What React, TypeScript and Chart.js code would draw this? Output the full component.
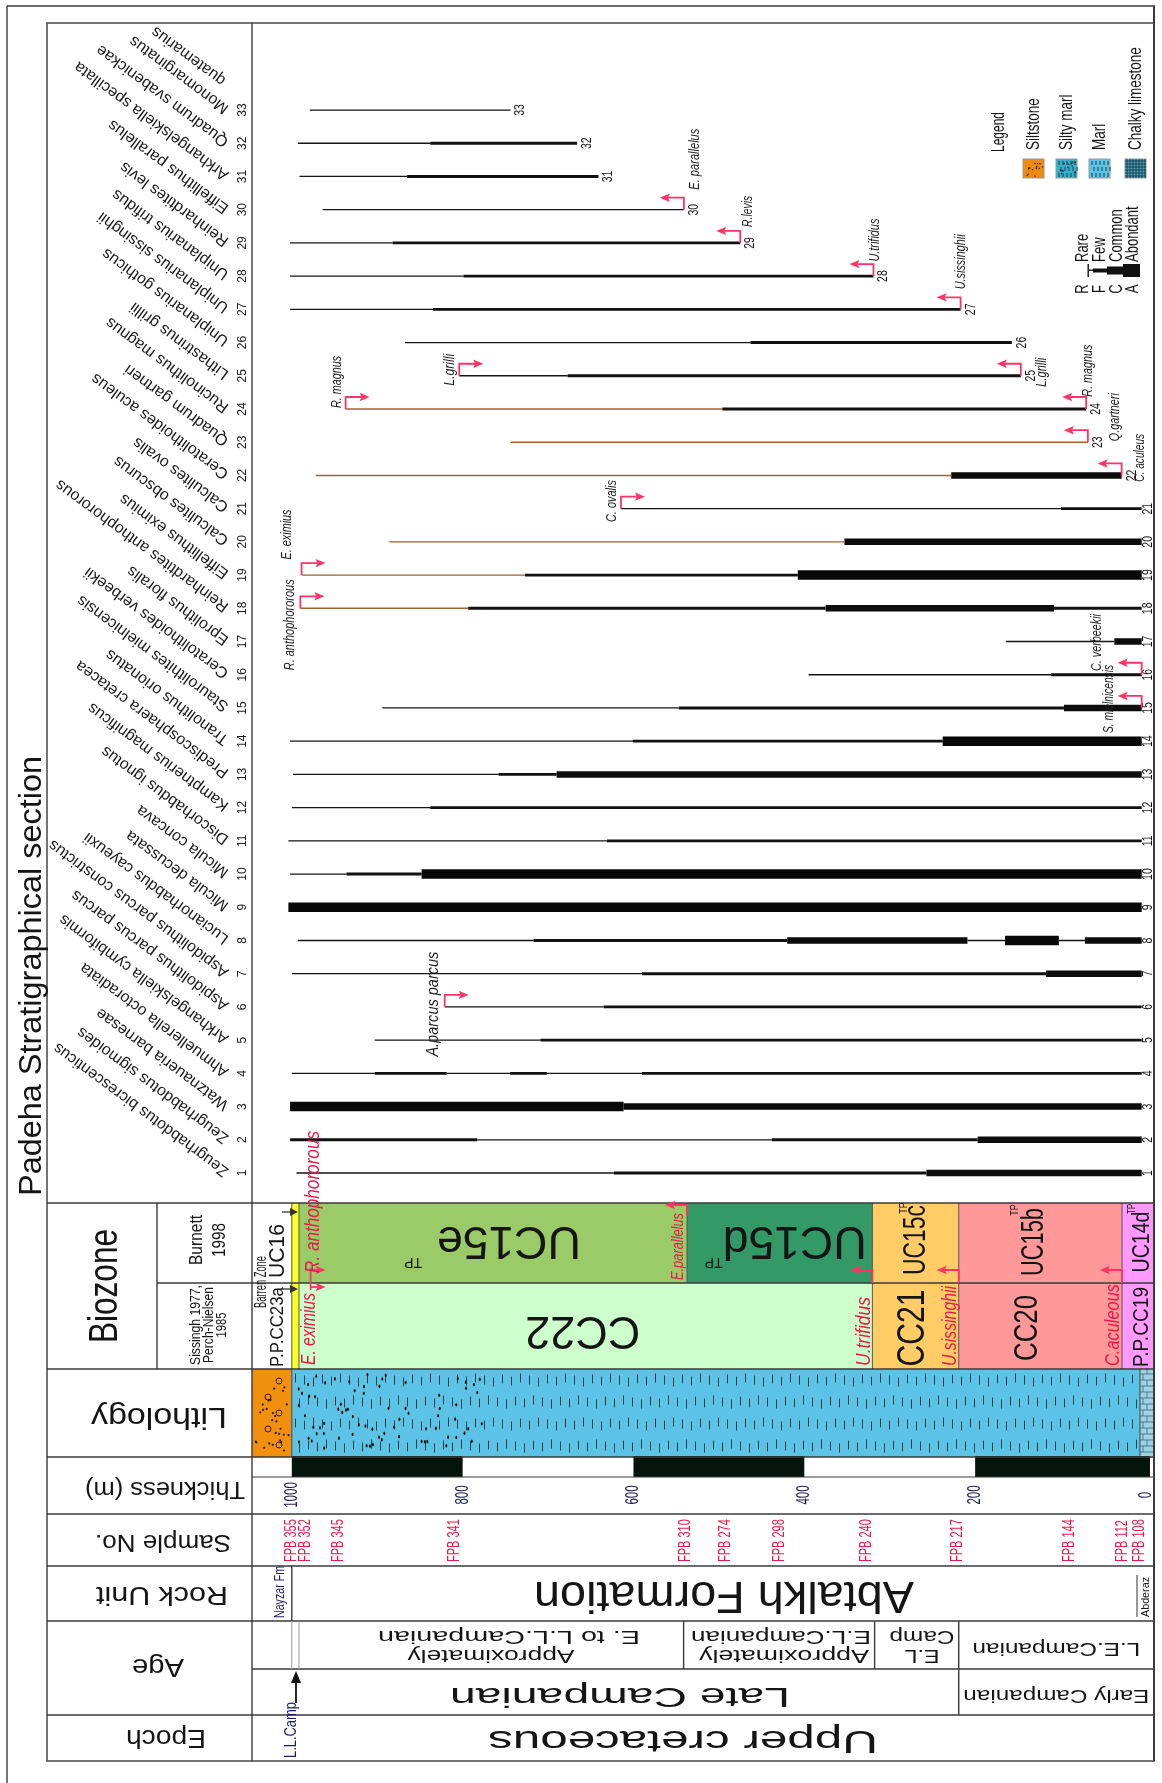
import React, { useEffect, useRef } from "react";
import { Chart, registerables } from "chart.js";
Chart.register(...registerables);

const FONT = 'Arial, "Liberation Sans", Helvetica, sans-serif';

// ---------------- data ----------------
const speciesNames = [
  "Zeugrhabdotus bicrescenticus", "Zeugrhabdotus sigmoides", "Watznaueria barnesae",
  "Ahmuellerella octoradiata", "Arkhangelskiella cymbiformis", "Aspidolithus parcus parcus",
  "Aspidolithus parcus constrictus", "Lucianorhabdus cayeuxii", "Micula decussata",
  "Micula concava", "Discorhabdus ignotus", "Kamptnerius magnificus",
  "Prediscosphaera cretacea", "Tranolithus orionatus", "Staurolithites mielnicensis",
  "Ceratolithoides verbeekii", "Eprolithus floralis", "Reinhardtites anthophororous",
  "Eiffellithus eximius", "Calculites obscurus", "Calculites ovalis",
  "Ceratolithoides aculeus", "Quadrum gartneri", "Rucinolithus magnus",
  "Lithastrinus grillii", "Uniplanarius gothicus", "Uniplanarius sissinghii",
  "Uniplanarius trifidus", "Reinhardtites levis", "Eiffellithus parallelus",
  "Arkhangelskiella specillata", "Quadrum svabenickae", "Monomarginatus",
];
const speciesExtraLine = "quatemarius";

// [species no., base thickness (m), top thickness (m)]
const rareRanges: [number, number, number][] = [
  [1, 623, 994.5], [2, 438, 783], [4, 903, 1000], [4, 744.4, 818.6], [4, 590, 701.4],
  [5, 709, 903], [6, 635, 821], [7, 590, 1000], [8, 717, 993], [8, 165, 209], [8, 71.5, 102],
  [10, 936, 1002], [11, 631, 1004], [12, 838, 1000], [13, 758, 998.5], [14, 600.6, 1002],
  [15, 547, 894], [16, 111, 395], [17, 37, 164], [21, 99.6, 614.6], [25, 677, 804],
  [26, 463, 867.5], [27, 835, 1002], [28, 799, 1002], [29, 882, 1002], [30, 541, 964],
  [31, 865, 991], [32, 838, 993], [33, 744, 979],
];
const rareBrownRanges: [number, number, number][] = [
  [18, 793.5, 990], [19, 727, 988.6], [20, 353, 886], [22, 228, 972], [23, 68, 744], [24, 496, 937],
];
const fewRanges: [number, number, number][] = [
  [1, 257, 623], [2, 783, 1002], [2, 197, 438], [4, 818.6, 903], [4, 701.4, 744.4], [4, 5, 590],
  [5, 5, 709], [6, 5, 635], [7, 117, 590], [8, 420, 717], [10, 848, 936], [11, 5, 631],
  [12, 5, 838], [13, 690, 758], [14, 238, 600.6], [15, 96, 547], [16, 5, 111],
  [18, 375, 793.5], [18, 5, 107.6], [19, 407.6, 727], [21, 5, 99.6], [24, 70, 496],
  [25, 146.5, 677], [26, 157, 463], [27, 217, 835], [28, 319, 799], [29, 475, 882],
  [31, 641, 865], [32, 666, 838],
];
const commonRanges: [number, number, number][] = [
  [1, 5, 257], [2, 5, 197], [3, 5, 611.6], [7, 5, 117], [8, 209, 420], [8, 5, 71.5],
  [13, 5, 690], [15, 5, 96], [17, 5, 37], [18, 107.6, 375], [20, 5, 353], [22, 28.5, 228],
];
const abundantRanges: [number, number, number][] = [
  [3, 611.6, 1002], [8, 102, 165], [9, 5, 1004], [10, 5, 848], [14, 5, 238], [19, 5, 407.6],
];

// first occurrences (arrow pointing right) [species, thickness, label]
const firstOccurrences: [number, number, string][] = [
  [6, 821, "A.parcus parcus"], [18, 990, "R. anthophororous"], [19, 988.6, "E. eximius"],
  [21, 614.6, "C. ovalis"], [24, 937, "R. magnus"], [25, 804, "L.grilli"],
];
// last occurrences (arrow pointing left)
const lastOccurrences: [number, number, string][] = [
  [15, 5, "S. mielnicensis"], [16, 5, "C. verbeekii"], [22, 28.5, "C. aculeus"],
  [23, 68, "Q.gartneri"], [24, 70, "R. magnus"], [25, 146.5, "L.grilli"],
  [27, 217, "U.sissinghii"], [28, 319, "U.trifidus"], [29, 475, "R.levis"],
  [30, 541, "E. parallelus"],
];

const thicknessTicks = [1000, 800, 600, 400, 200, 0];
const thicknessBlocks: [number, number][] = [[800, 1000], [400, 600], [0, 200]];

const sampleNames = ["FPB 355", "FPB 352", "FPB 345", "FPB 341", "FPB 310", "FPB 274",
  "FPB 298", "FPB 240", "FPB 217", "FPB 144", "FPB 112", "FPB 108"];
const sampleDepths = [1000, 983.5, 945, 809, 539, 492, 429, 327, 220.6, 89.7, 27.6, 7];

const burnettZones = ["UC15e", "UC15d", "UC15c", "UC15b", "UC14d"];
const burnettTops = [991.6, 537.3, 320.3, 219.2, 28.1];
const burnettBases = [537.3, 320.3, 219.2, 28.1, -9.4];
const sissinghZones = ["CC22", "CC21", "CC20", "P.P.CC19"];
const sissinghTops = [991.6, 320.3, 219.2, 28.1];
const sissinghBases = [320.3, 219.2, 28.1, -9.4];
const barrenTop = 1000;
const barrenBase = 991.6;

const lithologyNames = ["Siltstone", "Silty marl", "Marl", "Chalky limestone"];
const lithologyTops = [1046.6, 1000, 770, 7];
const lithologyBases = [1000, 770, 7, -9.4];

const ageLabels = [["Approximately", "E. to L.L.Campanian"], ["Approximately", "E.L.Campanian"], ["E.L", "Camp"], ["L.E.Campanian"]];
const ageTops = [991.6, 541.3, 317.7, 219.2];
const ageBases = [541.3, 317.7, 219.2, -9.4];
const epochLabels = ["Late Campanian", "Early Campanian"];
const epochTops = [991.6, 219.2];
const epochBases = [219.2, -9.4];

// ---------------- helpers ----------------
type TO = { rot?: number; size: number; color?: string; italic?: boolean; align?: CanvasTextAlign; base?: CanvasTextBaseline; kx?: number; len?: number };
function txt(ctx: CanvasRenderingContext2D, s: string, x: number, y: number, o: TO) {
  ctx.save();
  ctx.translate(x, y);
  if (o.kx) ctx.scale(o.kx, 1);
  ctx.rotate(o.rot || 0);
  ctx.font = `${o.italic ? "italic " : ""}${o.size}px ${FONT}`;
  ctx.fillStyle = o.color || "#151515";
  ctx.textAlign = o.align || "center";
  ctx.textBaseline = o.base || "middle";
  if (o.len) {
    const w = ctx.measureText(s).width;
    if (w > 0) ctx.scale(o.len / w, 1);
  }
  ctx.fillText(s, 0, 0);
  ctx.restore();
}
function line(ctx: CanvasRenderingContext2D, x1: number, y1: number, x2: number, y2: number) {
  ctx.beginPath(); ctx.moveTo(x1, y1); ctx.lineTo(x2, y2); ctx.stroke();
}
function arrow(ctx: CanvasRenderingContext2D, x0: number, yFrom: number, yShaft: number, dir: number, len: number, color: string, w = 1.8) {
  ctx.save();
  ctx.strokeStyle = color; ctx.fillStyle = color; ctx.lineWidth = w;
  ctx.beginPath(); ctx.moveTo(x0, yFrom); ctx.lineTo(x0, yShaft); ctx.lineTo(x0 + dir * (len - 8), yShaft); ctx.stroke();
  ctx.beginPath();
  ctx.moveTo(x0 + dir * len, yShaft);
  ctx.lineTo(x0 + dir * (len - 10), yShaft - 4.2);
  ctx.lineTo(x0 + dir * (len - 8), yShaft);
  ctx.lineTo(x0 + dir * (len - 10), yShaft + 4.2);
  ctx.closePath(); ctx.fill();
  ctx.restore();
}
// deterministic texture hash (decoration only)
const hash = (k: number) => { const v = Math.sin(k * 12.9898 + 78.233) * 43758.5453; return v - Math.floor(v); };
const UP = -Math.PI / 2;
const FLIP = Math.PI;
const RED = "#FF3366";
const RED_TXT = "#E8194B";
const NAVY = "#1B1F6B";

const ROW = { bioTop: 1203, bioMid: 1283, lithTop: 1369, thickTop: 1457, thickMid: 1477, sampleTop: 1514, rockTop: 1566, ageTop: 1621, ageMid: 1669, epochTop: 1715, bottom: 1761 };

function toLine(r: [number, number, number][]) {
  const pts: any[] = [];
  for (const [s, a, b] of r) { pts.push({ x: a, y: s }, { x: b, y: s }, { x: b, y: null }); }
  return pts;
}

const sectionPlugin = {
  id: "section",
  afterDatasetsDraw(chart: any) {
    const ctx: CanvasRenderingContext2D = chart.ctx;
    const X = (t: number) => chart.scales.x.getPixelForValue(t);
    const Y = (s: number) => chart.scales.y.getPixelForValue(s);
    ctx.save();

    // ---------- biozone fills ----------
    const bColors: Record<string, string> = { UC15e: "#9BCB68", UC15d: "#339966", UC15c: "#FFCC66", UC15b: "#FF9999", UC14d: "#FF99FF", CC22: "#CCFFCC", CC21: "#FFCC66", CC20: "#FF9999", "P.P.CC19": "#FF99FF" };
    burnettZones.forEach((z, i) => {
      ctx.fillStyle = bColors[z];
      ctx.fillRect(X(burnettTops[i]), ROW.bioTop, X(burnettBases[i]) - X(burnettTops[i]), ROW.bioMid - ROW.bioTop);
    });
    sissinghZones.forEach((z, i) => {
      ctx.fillStyle = bColors[z];
      ctx.fillRect(X(sissinghTops[i]), ROW.bioMid, X(sissinghBases[i]) - X(sissinghTops[i]), ROW.lithTop - ROW.bioMid);
    });
    ctx.fillStyle = "#FFFF22";
    ctx.fillRect(X(barrenTop), ROW.bioTop, X(barrenBase) - X(barrenTop), ROW.lithTop - ROW.bioTop);
    ctx.strokeStyle = "#555"; ctx.lineWidth = 1;
    line(ctx, X(barrenTop), ROW.bioTop, X(barrenTop), ROW.lithTop);
    line(ctx, X(barrenBase), ROW.bioTop, X(barrenBase), ROW.lithTop);
    burnettBases.slice(0, -1).forEach((t) => line(ctx, X(t), ROW.bioTop, X(t), ROW.bioMid));
    sissinghBases.slice(0, -1).forEach((t) => line(ctx, X(t), ROW.bioMid, X(t), ROW.lithTop));

    // ---------- lithology ----------
    const lt = ROW.lithTop, lb = ROW.thickTop;
    ctx.fillStyle = "#F0900E";
    ctx.fillRect(X(lithologyTops[0]), lt, X(lithologyBases[0]) - X(lithologyTops[0]), lb - lt);
    ctx.fillStyle = "#2a1a00"; ctx.strokeStyle = "#2a1a00"; ctx.lineWidth = 1;
    for (let k = 1; k < 28; k++) {
      const px = X(lithologyTops[0]) + 3 + hash(k) * 34;
      const py = lt + 4 + hash(k + 500) * 80;
      ctx.beginPath(); ctx.arc(px, py, 1.1, 0, Math.PI * 2); ctx.fill();
    }
    for (let k = 0; k < 5; k++) {
      const px = X(lithologyTops[0]) + 27 + (k % 2) * -11;
      const py = lt + 12 + k * 16;
      ctx.beginPath(); ctx.arc(px, py, 3, 0, Math.PI * 2); ctx.stroke();
    }
    const mx0 = X(lithologyTops[1]), mx1 = X(lithologyBases[2]);
    ctx.fillStyle = "#5DC3E6";
    ctx.fillRect(mx0, lt, mx1 - mx0, lb - lt);
    ctx.strokeStyle = "#23424d"; ctx.lineWidth = 1;
    for (let r = 0; r < 4; r++) {
      const yc = lt + 11 + r * 22;
      let c = 0;
      for (let x = mx0 + 3 + (r % 2) * 4.5; x < mx1 - 1; x += 9, c++) {
        const j = ((c * 7 + r * 3) % 5) - 2;
        line(ctx, Math.round(x) + 0.5, yc - 4.5 + j, Math.round(x) + 0.5, yc + 4.5 + j);
      }
    }
    ctx.fillStyle = "#111";
    const sx0 = X(lithologyTops[1]), sx1 = X(lithologyBases[1]);
    for (let k = 1; k < 75; k++) {
      const px = sx0 + 4 + hash(k + 1000) * (sx1 - sx0 - 8);
      const py = lt + 5 + hash(k + 2000) * 76;
      ctx.beginPath(); ctx.ellipse(px, py, 1.0, 1.8, 0, 0, Math.PI * 2); ctx.fill();
    }
    const cx0 = X(lithologyTops[3]), cx1 = X(lithologyBases[3]);
    ctx.fillStyle = "#9ED3E6";
    ctx.fillRect(cx0, lt, cx1 - cx0, lb - lt);
    ctx.strokeStyle = "#3d6a7a"; ctx.lineWidth = 0.8;
    for (let y = lt + 5, r = 0; y < lb; y += 6, r++) {
      line(ctx, cx0, y, cx1, y);
      const xo = cx0 + (r % 2 ? 3 : 7);
      line(ctx, xo, y - 6, xo, y);
    }
    ctx.strokeStyle = "#444"; ctx.lineWidth = 1;
    line(ctx, cx0, lt, cx0, lb);
    line(ctx, mx0, lt, mx0, lb);

    // ---------- thickness ----------
    ctx.fillStyle = "#06140E";
    thicknessBlocks.forEach(([a, b]) => ctx.fillRect(X(b), ROW.thickTop - 1, X(a) - X(b) + (a === 0 ? 4 : 0), ROW.thickMid - ROW.thickTop + 1));
    thicknessTicks.forEach((t) => txt(ctx, String(t), X(t), 1495, { rot: UP, size: 11.5, kx: 1.55, color: "#1c1c50" }));

    // ---------- samples ----------
    sampleNames.forEach((s, i) => txt(ctx, s, X(sampleDepths[i]), 1562, { rot: UP, size: 11, kx: 1.45, color: RED_TXT, align: "left" }));

    // ---------- frame lines ----------
    ctx.strokeStyle = "#3a3a3a"; ctx.lineWidth = 1.4;
    line(ctx, 7, 6, 7, 1783);
    line(ctx, 7, 6, 1155, 6);
    ctx.strokeRect(47, 23, 1154 - 47, ROW.bottom - 23);
    ctx.lineWidth = 2; line(ctx, 1154, 6, 1154, ROW.bottom); ctx.lineWidth = 1.4;
    line(ctx, 252, 23, 252, ROW.bottom);
    [ROW.bioTop, ROW.lithTop, ROW.thickTop, ROW.sampleTop, ROW.rockTop, ROW.ageTop, ROW.epochTop].forEach((y) => line(ctx, 47, y, 1154, y));
    line(ctx, 252, ROW.ageMid, 1154, ROW.ageMid);
    ctx.lineWidth = 1; line(ctx, 252, ROW.thickMid, 1154, ROW.thickMid); ctx.lineWidth = 1.4;
    line(ctx, 157, ROW.bioTop, 157, ROW.lithTop);
    line(ctx, 157, ROW.bioMid, 1154, ROW.bioMid);
    ageBases.slice(0, -1).forEach((t) => line(ctx, X(t), ROW.ageTop, X(t), ROW.ageMid));
    epochBases.slice(0, -1).forEach((t) => line(ctx, X(t), ROW.ageMid, X(t), ROW.epochTop));
    line(ctx, X(lithologyBases[0]), ROW.rockTop, X(lithologyBases[0]), ROW.ageTop);
    ctx.strokeStyle = "#9a9a9a"; ctx.lineWidth = 1;
    line(ctx, X(barrenTop), ROW.ageTop, X(barrenTop), ROW.ageMid);
    line(ctx, X(barrenBase), ROW.ageTop, X(barrenBase), ROW.ageMid);
    ctx.strokeStyle = "#333";
    line(ctx, 1137, 1575, 1137, 1617);

    // ---------- title & header column ----------
    txt(ctx, "Padeha Stratigraphical section", 32, 976, { rot: UP, size: 31, len: 440 });
    txt(ctx, "Biozone", 106, 1286, { rot: UP, size: 30, kx: 1.35, len: 114 });
    txt(ctx, "Burnett", 197, 1240, { rot: UP, size: 15, kx: 1.25, len: 50 });
    txt(ctx, "1998", 220, 1240, { rot: UP, size: 15, kx: 1.25, len: 34 });
    txt(ctx, "Sissingh 1977,", 196, 1325, { rot: UP, size: 12, kx: 1.2, len: 80 });
    txt(ctx, "Perch-Nielsen", 209, 1325, { rot: UP, size: 12, kx: 1.2, len: 76 });
    txt(ctx, "1985", 222, 1325, { rot: UP, size: 12, kx: 1.2, len: 25 });
    txt(ctx, "Lithology", 159, 1416, { rot: FLIP, size: 30, len: 136 });
    txt(ctx, "Thickness (m)", 165, 1488, { rot: FLIP, size: 23, len: 160 });
    txt(ctx, "Sample No.", 163, 1541, { rot: FLIP, size: 23, len: 136 });
    txt(ctx, "Rock Unit", 162, 1594, { rot: FLIP, size: 26, len: 132 });
    txt(ctx, "Age", 158, 1666, { rot: FLIP, size: 26, len: 52 });
    txt(ctx, "Epoch", 166, 1737, { rot: FLIP, size: 26, len: 80 });

    // ---------- species names & numbers ----------
    const ang = (216.5 * Math.PI) / 180;
    speciesNames.forEach((n, i) => {
      const s = i + 1;
      txt(ctx, n, 227, Y(s), { rot: ang, size: 16, align: "left", color: "#1a1a1a" });
      txt(ctx, String(s), 243, Y(s), { rot: UP, size: 12, color: "#1a1a1a" });
    });
    txt(ctx, speciesExtraLine, 224, Y(33) - 28, { rot: ang, size: 16, align: "left", color: "#1a1a1a" });

    // ---------- end numbers ----------
    const all = [...rareRanges, ...rareBrownRanges, ...fewRanges, ...commonRanges, ...abundantRanges];
    for (let s = 1; s <= 33; s++) {
      const mins = all.filter((r) => r[0] === s).map((r) => r[1]);
      const m = Math.min(...mins);
      txt(ctx, String(s), Math.min(X(m) + 10, 1148), Y(s), { rot: UP, size: 10.5, kx: 1.35 });
    }

    // ---------- occurrence arrows & labels ----------
    const firstLay: Record<number, [number, number, number, number]> = {
      6: [-11.7, 49.7, 105, 13], 18: [-10.3, 62, 91, 11], 19: [-14.5, -15.6, 50, 11],
      21: [-9.3, 13.4, 42, 11], 24: [-9, -1, 52, 11], 25: [-9, 10, 32, 11],
    };
    firstOccurrences.forEach(([s, t, lab]) => {
      const x0 = X(t), y0 = Y(s);
      arrow(ctx, x0, y0, y0 - 12, 1, 24, RED);
      const [dx, dy, len, size] = firstLay[s];
      txt(ctx, lab, x0 + dx, y0 + dy, { rot: UP, size, kx: 1.3, italic: true, align: "left", len, color: "#222" });
    });
    const lastLay: Record<number, [number, number, number]> = {
      15: [-33, 25, 68], 16: [-44.7, -3.7, 57], 22: [18.3, 6.4, 48], 23: [27, -1, 48],
      24: [2, -12.3, 52], 25: [21, 11, 29], 27: [0, -20, 55], 28: [1.5, -14.5, 43],
      29: [7.7, -16, 31], 30: [11, -20, 61],
    };
    lastOccurrences.forEach(([s, t, lab]) => {
      const x0 = X(t), y0 = Y(s);
      arrow(ctx, x0, y0, y0 - 12, -1, 24, RED);
      const [dx, dy, len] = lastLay[s];
      txt(ctx, lab, x0 + dx, y0 + dy, { rot: UP, size: 11, kx: 1.3, italic: true, align: "left", len, color: "#222" });
    });

    // ---------- biozone labels ----------
    const mid = (a: number, b: number) => (X(a) + X(b)) / 2;
    txt(ctx, "UC15e", mid(burnettTops[0], burnettBases[0]) + 16, 1240, { rot: FLIP, size: 46, len: 144 });
    txt(ctx, "TP", mid(burnettTops[0], burnettBases[0]) - 80, 1262, { rot: FLIP, size: 14 });
    txt(ctx, "UC15d", mid(burnettTops[1], burnettBases[1]) + 15, 1240, { rot: FLIP, size: 46, len: 144 });
    txt(ctx, "TP", mid(burnettTops[1], burnettBases[1]) - 66, 1262, { rot: FLIP, size: 14 });
    txt(ctx, "UC15c", mid(burnettTops[2], burnettBases[2]) + 1, 1240, { rot: UP, size: 22, kx: 1.45, len: 70 });
    txt(ctx, "TP", mid(burnettTops[2], burnettBases[2]) - 12, 1208, { rot: UP, size: 9, kx: 1.3 });
    txt(ctx, "UC15b", mid(burnettTops[3], burnettBases[3]) - 6, 1242, { rot: UP, size: 22, kx: 1.45, len: 68 });
    txt(ctx, "TP", mid(burnettTops[3], burnettBases[3]) - 26, 1210, { rot: UP, size: 9, kx: 1.3 });
    txt(ctx, "UC14d", mid(burnettTops[4], burnettBases[4]) + 4, 1242, { rot: UP, size: 19, kx: 1.3, len: 61 });
    txt(ctx, "TP", mid(burnettTops[4], burnettBases[4]) - 6, 1209, { rot: UP, size: 8, kx: 1.3 });
    txt(ctx, "CC22", mid(sissinghTops[0], sissinghBases[0]) - 3, 1330, { rot: FLIP, size: 46, len: 115 });
    txt(ctx, "CC21", mid(sissinghTops[1], sissinghBases[1]) - 2, 1328, { rot: UP, size: 29, kx: 1.35, len: 77 });
    txt(ctx, "CC20", mid(sissinghTops[2], sissinghBases[2]) - 13, 1328, { rot: UP, size: 26, kx: 1.3, len: 66 });
    txt(ctx, "P.P.CC19", mid(sissinghTops[3], sissinghBases[3]) + 4, 1327, { rot: UP, size: 17, kx: 1.3, len: 80 });
    txt(ctx, "Barren Zone", 261, 1282, { rot: UP, size: 11, kx: 1.5, len: 52 });
    txt(ctx, "UC16", 278, 1251, { rot: UP, size: 16, kx: 1.35, len: 54 });
    txt(ctx, "P.P.CC23a", 278, 1327, { rot: UP, size: 15, kx: 1.25, len: 80 });
    ctx.strokeStyle = "#333"; ctx.fillStyle = "#333"; ctx.lineWidth = 1.3;
    [1212, 1289].forEach((y) => {
      line(ctx, 282, y, 292, y);
      ctx.beginPath(); ctx.moveTo(298, y); ctx.lineTo(290, y - 4); ctx.lineTo(290, y + 4); ctx.closePath(); ctx.fill();
    });
    const xr = X(978);
    ctx.strokeStyle = RED; ctx.lineWidth = 1.8;
    line(ctx, xr, 1268, xr, 1290);
    arrow(ctx, xr, 1270, 1270, 1, 15, RED);
    arrow(ctx, xr, 1287, 1287, 1, 15, RED);
    txt(ctx, "R. anthophororous", xr + 3, 1273, { rot: UP, size: 15, kx: 1.3, italic: true, color: RED_TXT, align: "left", len: 142 });
    txt(ctx, "E. eximius", xr - 1.5, 1365, { rot: UP, size: 15, kx: 1.3, italic: true, color: RED_TXT, align: "left", len: 72 });
    const xp = X(burnettBases[0]);
    arrow(ctx, xp, 1216, 1205, -1, 22, RED);
    txt(ctx, "E.parallelus", xp - 9, 1280, { rot: UP, size: 13, kx: 1.3, italic: true, color: RED_TXT, align: "left", len: 67 });
    const mk: [number, string, number][] = [[sissinghBases[0], "U.trifidus", 69], [sissinghBases[1], "U.sissinghii", 80], [sissinghBases[2], "C.aculeous", 82]];
    mk.forEach(([t, lab, len]) => {
      const x0 = X(t);
      arrow(ctx, x0, ROW.bioMid, 1270, -1, 22, RED);
      txt(ctx, lab, x0 - 8, 1366, { rot: UP, size: 15, kx: 1.3, italic: true, color: RED_TXT, align: "left", len });
    });

    // ---------- rock unit / age / epoch ----------
    txt(ctx, "Nayzar Fm", 280, 1618, { rot: UP, size: 11, kx: 1.4, color: NAVY, align: "left", len: 52 });
    txt(ctx, "Abtalkh Formation", 724, 1594, { rot: FLIP, size: 44, len: 380 });
    txt(ctx, "Abderaz", 1146, 1617, { rot: UP, size: 9, kx: 1.3, align: "left", len: 40 });
    const ageLay: [number, number, number, number][] = [[491, 167, 509, 262], [784, 170, 781, 180], [922, 35, 922, 65]];
    ageLabels.forEach((lines, i) => {
      if (lines.length === 2) {
        const [x1, l1, x2, l2] = ageLay[i];
        txt(ctx, lines[0], x1, 1655, { rot: FLIP, size: 18, len: l1 });
        txt(ctx, lines[1], x2, 1636, { rot: FLIP, size: 18, len: l2 });
      } else {
        txt(ctx, lines[0], mid(ageTops[i], ageBases[i]), 1648, { rot: FLIP, size: 19, len: 168 });
      }
    });
    txt(ctx, epochLabels[0], 620, 1695, { rot: FLIP, size: 27, len: 340 });
    txt(ctx, epochLabels[1], mid(epochTops[1], epochBases[1]), 1695, { rot: FLIP, size: 19, len: 186 });
    txt(ctx, "Upper cretaceous", 683, 1740, { rot: FLIP, size: 32, len: 390 });
    txt(ctx, "L.L.Camp", 292, 1758, { rot: UP, size: 12, kx: 1.35, color: NAVY, align: "left", len: 56 });
    ctx.strokeStyle = "#111"; ctx.fillStyle = "#111"; ctx.lineWidth = 1.8;
    line(ctx, 296, 1703, 296, 1680);
    ctx.beginPath(); ctx.moveTo(296, 1671); ctx.lineTo(291, 1683); ctx.lineTo(301, 1683); ctx.closePath(); ctx.fill();

    // ---------- legend ----------
    txt(ctx, "Legend", 999, 152, { rot: UP, size: 12.5, kx: 1.4, align: "left", len: 40 });
    const sw = [[1023, "#EE8A10"], [1056, "#35AFCB"], [1089, "#5CC3E7"], [1125, "#4FA9C6"]] as [number, string][];
    sw.forEach(([x, c], i) => {
      ctx.fillStyle = c; ctx.fillRect(x, 159, 21, 19);
      ctx.strokeStyle = "#9a9a9a"; ctx.lineWidth = 1; ctx.strokeRect(x, 159, 21, 19);
      ctx.fillStyle = "#222"; ctx.strokeStyle = "#1d3f4a";
      if (i === 0 || i === 1) {
        for (let k = 1; k < 16; k++) {
          const px = x + 2 + hash(k + 3000 + i * 50) * 17, py = 161 + hash(k + 4000 + i * 50) * 15;
          ctx.fillRect(px, py, 1.3, 1.3);
        }
      }
      if (i === 1 || i === 2) {
        for (let r = 0; r < 3; r++) for (let c2 = 0; c2 < 5; c2++) line(ctx, x + 3 + c2 * 4 + (r % 2) * 2, 161 + r * 6, x + 3 + c2 * 4 + (r % 2) * 2, 165 + r * 6);
      }
      if (i === 3) {
        for (let r = 0; r < 6; r++) { line(ctx, x, 161 + r * 3, x + 21, 161 + r * 3); }
        for (let c2 = 0; c2 < 7; c2++) line(ctx, x + 2 + c2 * 3, 159, x + 2 + c2 * 3, 178);
      }
      txt(ctx, lithologyNames[i], x + 11, 150, { rot: UP, size: 13.5, kx: 1.35, align: "left" });
    });
    const abund = [["R", "Rare"], ["F", "Few"], ["C", "Common"], ["A", "Abondant"]];
    const ax = [1083, 1100, 1117, 1133];
    abund.forEach(([l, w], i) => {
      txt(ctx, l, ax[i], 289, { rot: UP, size: 13, kx: 1.35 });
      txt(ctx, w, ax[i], 262, { rot: UP, size: 13, kx: 1.35, align: "left" });
    });
    ctx.fillStyle = "#111";
    ctx.fillRect(1087.5, 264, 1.4, 13);
    ctx.fillRect(1089, 269.5, 4, 1.4);
    ctx.fillRect(1093, 268.5, 14, 4);
    ctx.fillRect(1107, 266.5, 16, 8);
    ctx.fillRect(1123, 264, 17, 13);

    ctx.restore();
  },
};

export default function App() {
  const ref = useRef<HTMLCanvasElement>(null);
  useEffect(() => {
    const mk = (label: string, r: [number, number, number][], w: number, c: string) => ({
      label, data: toLine(r), borderColor: c, borderWidth: w, pointRadius: 0, pointHoverRadius: 0,
      spanGaps: false, tension: 0, fill: false, borderCapStyle: "butt" as const,
    });
    const chart = new Chart(ref.current as HTMLCanvasElement, {
      type: "line",
      data: {
        datasets: [
          mk("Rare", rareRanges, 1.3, "#141414"),
          mk("Rare (upper part)", rareBrownRanges, 1.4, "#A0622A"),
          mk("Few", fewRanges, 2.9, "#111111"),
          mk("Common", commonRanges, 6.5, "#0c0c0c"),
          mk("Abundant", abundantRanges, 9.5, "#080808"),
        ],
      },
      options: {
        responsive: false,
        maintainAspectRatio: false,
        animation: false,
        devicePixelRatio: 1,
        events: [],
        layout: { padding: { left: 252, right: 8, top: 23, bottom: 580 } },
        plugins: { legend: { display: false }, tooltip: { enabled: false }, title: { display: false } },
        scales: {
          x: { type: "linear", reverse: true, min: -9.4, max: 1046.6, display: false },
          y: { type: "linear", min: 0.097, max: 35.62, display: false },
        },
      },
      plugins: [sectionPlugin],
    });
    return () => chart.destroy();
  }, []);
  return (
    <div style={{ position: "absolute", left: 0, top: 0, width: 1162, height: 1783, background: "#fff" }}>
      <canvas ref={ref} width={1162} height={1783} style={{ display: "block", width: 1162, height: 1783 }} />
    </div>
  );
}
